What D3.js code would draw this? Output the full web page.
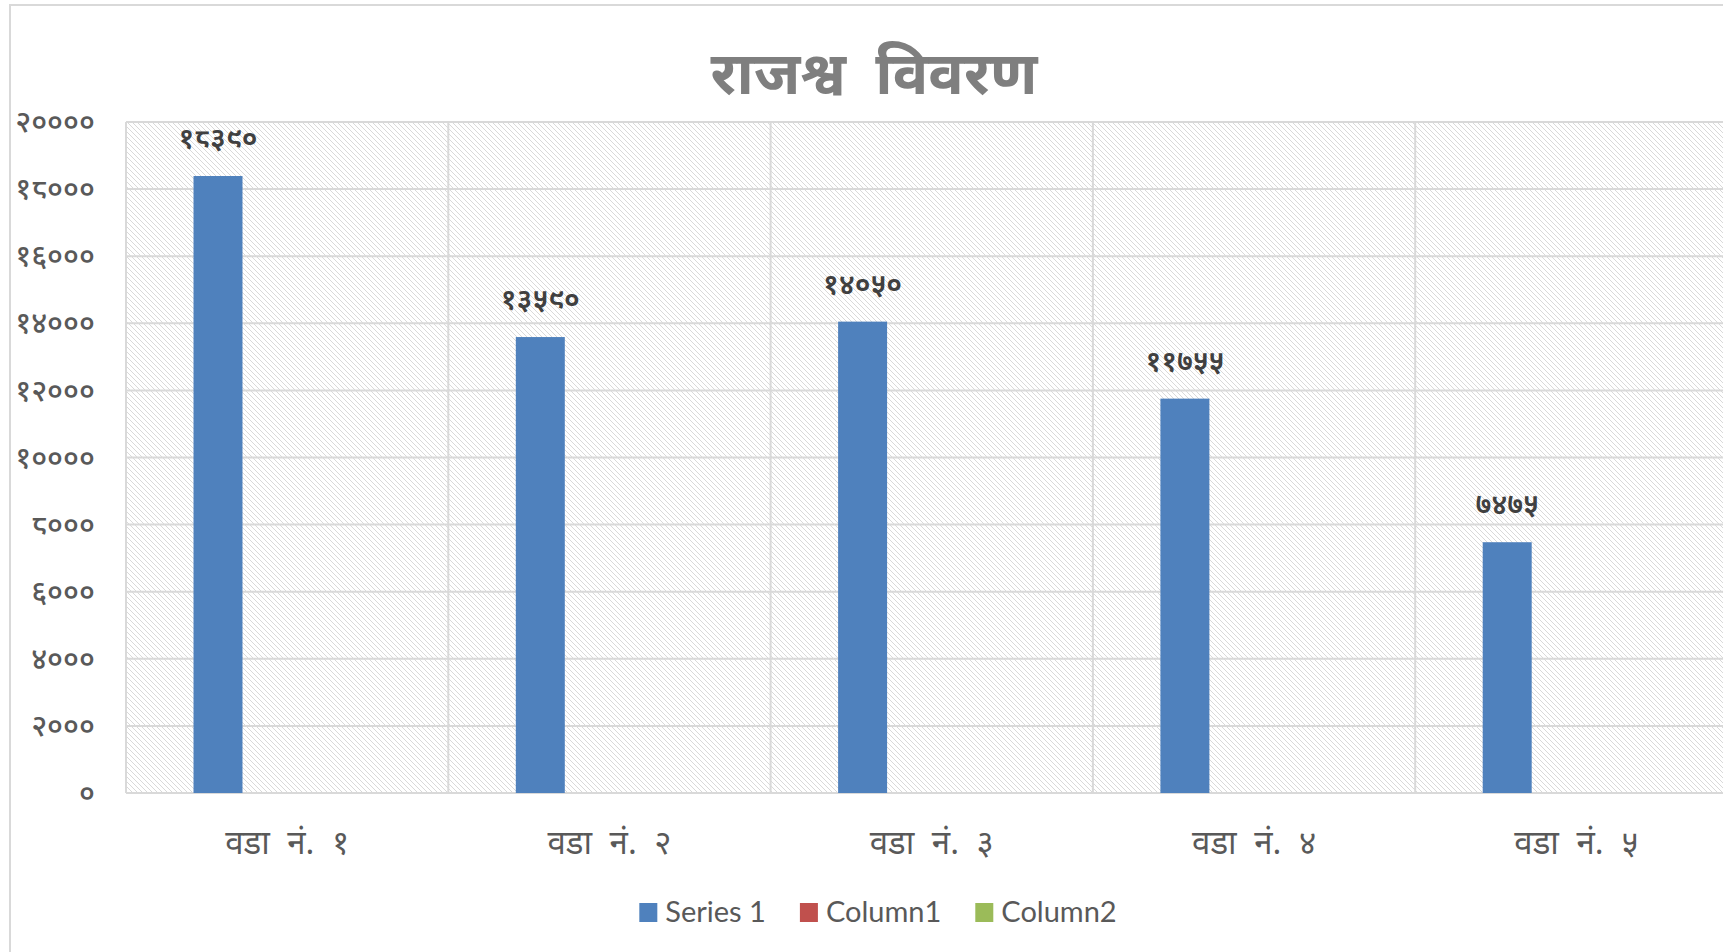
<!doctype html>
<html lang="ne">
  <head>
    <meta charset="UTF-8" />
    <title>राजश्व विवरण</title>
    <style>
      body { margin: 0; background: #fff; }
      svg { display: block; }
      .dev { font-family: "Noto Sans Devanagari", "Noto Sans", "DejaVu Sans", sans-serif; }
    </style>
  </head>
  <body>
    <div id="chart"></div>
    <script src="https://cdn.jsdelivr.net/npm/d3@7"></script>
    <script>
      // data
      const title = "राजश्व विवरण";
      const wards = ["वडा नं. १", "वडा नं. २", "वडा नं. ३", "वडा नं. ४", "वडा नं. ५"];
      const seriesNames = ["Series 1", "Column1", "Column2"];
      const series1 = [18390, 13590, 14050, 11755, 7475];
      const column1 = [null, null, null, null, null];
      const column2 = [null, null, null, null, null];
      const yTicks = [0, 2000, 4000, 6000, 8000, 10000, 12000, 14000, 16000, 18000, 20000];
      const colors = ["#4f81bd", "#c0504d", "#9bbb59"];

      const devDigits = "०१२३४५६७८९";
      const toDev = (n) => String(n).replace(/\d/g, (d) => devDigits[+d]);

      const width = 1723, height = 952;
      const plot = { left: 126, top: 122, bottom: 793, right: 1737.5 };

      const svg = d3.select("#chart").append("svg")
        .attr("width", width).attr("height", height);

      // hatch pattern for the plot area
      const pat = svg.append("defs").append("pattern")
        .attr("id", "hatch").attr("patternUnits", "userSpaceOnUse")
        .attr("width", 5).attr("height", 5);
      pat.append("rect").attr("width", 5).attr("height", 5).attr("fill", "#fff");
      pat.append("path").attr("d", "M-1,-1L6,6M-1,4L1,6M4,-1L6,1")
        .attr("stroke", "#d9d9d9").attr("stroke-width", 1);

      // outer chart border (runs off the right/bottom of the shot)
      svg.append("rect")
        .attr("x", 10).attr("y", 5).attr("width", 1760).attr("height", 1000)
        .attr("fill", "none").attr("stroke", "#d9d9d9").attr("stroke-width", 2);

      const x0 = d3.scaleBand().domain(wards).range([plot.left, plot.right]).padding(0);
      const x1 = d3.scaleBand().domain(seriesNames).range([0, x0.bandwidth()])
        .paddingInner(0).paddingOuter(1.79).align(0.385);
      const y = d3.scaleLinear().domain([0, 20000]).range([plot.bottom, plot.top]);

      svg.append("rect")
        .attr("x", plot.left).attr("y", plot.top)
        .attr("width", plot.right - plot.left).attr("height", plot.bottom - plot.top)
        .attr("fill", "url(#hatch)");

      // gridlines
      const grid = svg.append("g").attr("stroke", "#d9d9d9").attr("stroke-width", 2);
      grid.selectAll("line.h").data(yTicks).join("line").attr("class", "h")
        .attr("x1", plot.left).attr("x2", plot.right)
        .attr("y1", (d) => y(d)).attr("y2", (d) => y(d));
      grid.selectAll("line.v").data(wards.concat([null])).join("line").attr("class", "v")
        .attr("x1", (d, i) => plot.left + i * x0.step())
        .attr("x2", (d, i) => plot.left + i * x0.step())
        .attr("y1", plot.top).attr("y2", plot.bottom);

      // y axis
      const yAxis = svg.append("g").attr("transform", `translate(${plot.left},0)`)
        .call(d3.axisLeft(y).tickValues(yTicks).tickSize(0).tickPadding(31).tickFormat(toDev));
      yAxis.select(".domain").remove();
      yAxis.selectAll("text").attr("class", "dev")
        .attr("font-size", 30).attr("fill", "#595959").attr("font-weight", 500);

      // x axis labels
      const xAxis = svg.append("g").attr("transform", `translate(0,${plot.bottom})`)
        .call(d3.axisBottom(x0).tickSize(0).tickPadding(38));
      xAxis.select(".domain").remove();
      xAxis.selectAll("text").attr("class", "dev")
        .attr("font-size", 33).attr("word-spacing", 9).attr("fill", "#595959");

      // bars
      const allSeries = [series1, column1, column2];
      const barData = [];
      allSeries.forEach((vals, si) => vals.forEach((v, i) => {
        if (v != null) barData.push({ ward: wards[i], s: seriesNames[si], v, c: colors[si] });
      }));
      const bars = svg.append("g");
      bars.selectAll("rect").data(barData).join("rect")
        .attr("x", (d) => x0(d.ward) + x1(d.s))
        .attr("y", (d) => y(d.v))
        .attr("width", x1.bandwidth())
        .attr("height", (d) => y(0) - y(d.v))
        .attr("fill", (d) => d.c);
      bars.selectAll("text").data(barData).join("text")
        .attr("class", "dev")
        .attr("x", (d) => x0(d.ward) + x1(d.s) + x1.bandwidth() / 2)
        .attr("y", (d) => y(d.v) - 28)
        .attr("text-anchor", "middle")
        .attr("font-size", 29).attr("font-weight", 600).attr("fill", "#404040")
        .text((d) => toDev(d.v));

      // title
      svg.append("text").attr("class", "dev")
        .attr("x", 874).attr("y", 94)
        .attr("text-anchor", "middle")
        .attr("font-size", 59).attr("font-weight", 700).attr("word-spacing", 14)
        .attr("fill", "#7f7f7f")
        .text(title);

      // legend
      const legend = svg.append("g").attr("transform", "translate(0,922)");
      const items = legend.selectAll("g").data(seriesNames).join("g");
      items.append("rect").attr("y", -19).attr("width", 18).attr("height", 19)
        .attr("fill", (d, i) => colors[i]);
      items.append("text").attr("x", 26).attr("y", 0)
        .attr("font-family", "Lato, 'Liberation Sans', sans-serif")
        .attr("font-size", 29).attr("fill", "#595959").text((d) => d);
      let cx = 0;
      const offs = [];
      items.each(function () {
        offs.push(cx);
        cx += 26 + this.querySelector("text").getComputedTextLength() + 34;
      });
      const total = cx - 34;
      const start = 878 - total / 2;
      items.attr("transform", (d, i) => `translate(${start + offs[i]},0)`);
    </script>
  </body>
</html>
